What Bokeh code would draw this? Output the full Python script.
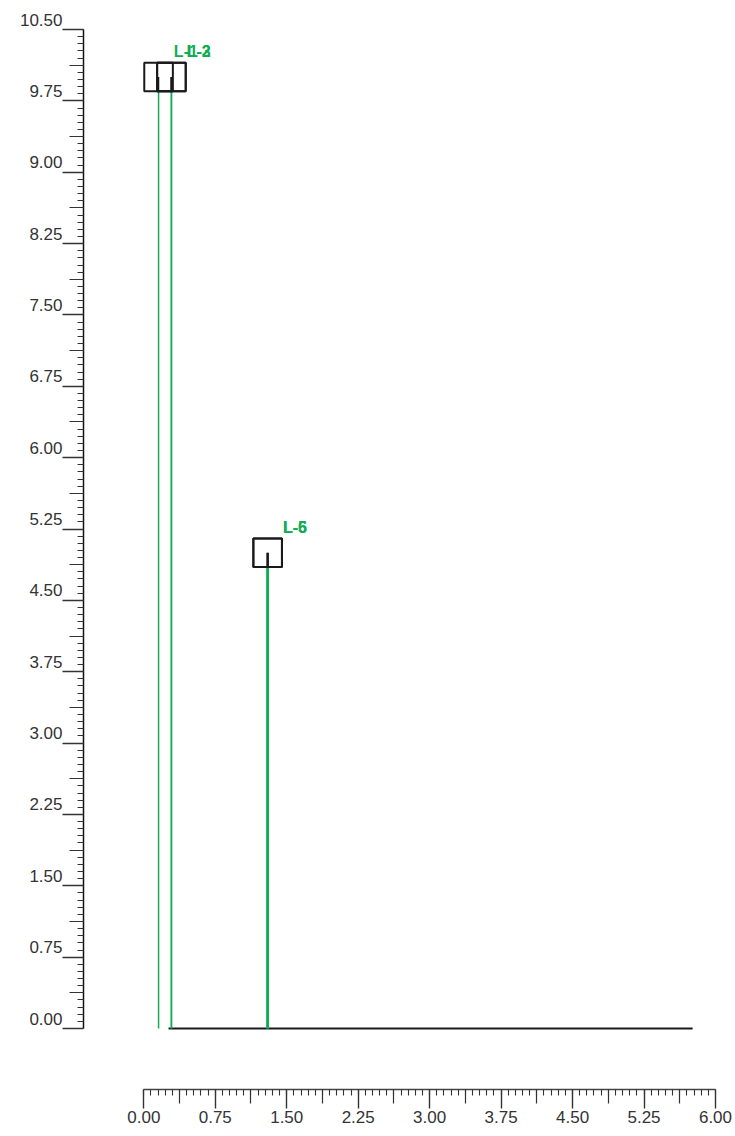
import numpy as np
from bokeh.plotting import figure
from bokeh.models import Range1d, LinearAxis, FixedTicker, ColumnDataSource
from bokeh.core.properties import value
from bokeh.transform import dodge
from bokeh.embed import file_html
from bokeh.resources import INLINE

# ---------------- data ----------------
names = ["L-1", "L-2", "L-3", "L-5", "L-6"]
pos_x = [0.155, 0.29, 0.29, 1.30, 1.30]
pos_y = [10.0, 10.0, 10.0, 5.0, 5.0]

ground_x = [0.26, 5.76]
ground_y = [0.0, 0.0]

x_tick_values = [0.0, 0.75, 1.5, 2.25, 3.0, 3.75, 4.5, 5.25, 6.0]
x_tick_labels = ["0.00", "0.75", "1.50", "2.25", "3.00", "3.75", "4.50", "5.25", "6.00"]
y_tick_values = [0.0, 0.75, 1.5, 2.25, 3.0, 3.75, 4.5, 5.25, 6.0, 6.75, 7.5, 8.25, 9.0, 9.75, 10.5]
y_tick_labels = ["0.00", "0.75", "1.50", "2.25", "3.00", "3.75", "4.50", "5.25", "6.00",
                 "6.75", "7.50", "8.25", "9.00", "9.75", "10.50"]

# ---------------- styles ----------------
GREEN = "#10ad52"
DARK = "#1a1a1a"
AX = "#333333"
BOX = 0.3
HALF = BOX / 2
line_w = [1.5, 1.5, 1.5, 2.6, 2.6]
stub_w = [1.4, 1.9, 1.9, 2.2, 2.2]

W, H = 735, 1130
PX = 95.28   # px per x unit
PY = 95.14   # px per y unit
x0 = -143.3 / PX
y1 = 1028.0 / PY
x_range = Range1d(x0, x0 + W / PX)
y_range = Range1d(y1 - H / PY, y1)

p = figure(width=W, height=H, x_range=x_range, y_range=y_range,
           x_axis_location=None, y_axis_location=None,
           output_backend="svg", toolbar_location=None,
           min_border=0, outline_line_color=None)
p.grid.visible = False

LAB_SHIFT = 10.0 / PY
p.extra_y_ranges = {"ylab": Range1d(y_range.start - LAB_SHIFT, y_range.end - LAB_SHIFT)}

YAX_X = -60.3 / PX
XAX_Y = -60.5 / PY

FONT = "Liberation Sans"

x_minor = list(np.round(np.arange(0, 6.0001, 0.075), 4))
y_minor = list(np.round(np.arange(0, 10.5001, 0.075), 4))
x_mid = list(np.round(np.arange(0.375, 6.0, 0.75), 4))
y_mid = list(np.round(np.arange(0.375, 10.5, 0.75), 4))

def no_labels(ax, ticks):
    ax.major_label_overrides = {float(t): "" for t in ticks}
    ax.major_label_text_font_size = "0px"

# ---- Y axes ----
y_main = LinearAxis(fixed_location=YAX_X, bounds=(0, 10.5),
                    ticker=FixedTicker(ticks=y_tick_values, minor_ticks=y_minor),
                    major_tick_out=21, major_tick_in=0, minor_tick_out=6, minor_tick_in=0,
                    axis_line_color="#111111", axis_line_width=1.5,
                    major_tick_line_color=AX, major_tick_line_width=1.4,
                    minor_tick_line_color=AX, minor_tick_line_width=1.1)
no_labels(y_main, y_tick_values)
p.add_layout(y_main, "left")

y_med = LinearAxis(fixed_location=YAX_X, bounds=(0, 10.5),
                   ticker=FixedTicker(ticks=y_mid),
                   major_tick_out=14, major_tick_in=0,
                   axis_line_color=None, minor_tick_line_color=None,
                   major_tick_line_color=AX, major_tick_line_width=1.2)
no_labels(y_med, y_mid)
p.add_layout(y_med, "left")

y_lab = LinearAxis(y_range_name="ylab", fixed_location=YAX_X,
                   ticker=FixedTicker(ticks=y_tick_values),
                   major_label_overrides=dict(zip(y_tick_values, y_tick_labels)),
                   major_tick_out=0, major_tick_in=0, major_tick_line_color=None,
                   minor_tick_line_color=None, axis_line_color=None,
                   major_label_standoff=21,
                   major_label_text_font=FONT, major_label_text_font_size="17px",
                   major_label_text_color=AX)
p.add_layout(y_lab, "left")

# ---- X axes ----
x_main = LinearAxis(fixed_location=XAX_Y, bounds=(0, 6),
                    ticker=FixedTicker(ticks=x_tick_values, minor_ticks=x_minor),
                    major_label_overrides=dict(zip(x_tick_values, x_tick_labels)),
                    major_tick_out=19, major_tick_in=0, minor_tick_out=6, minor_tick_in=0,
                    axis_line_color="#444444", axis_line_width=1.4,
                    major_tick_line_color=AX, major_tick_line_width=1.4,
                    minor_tick_line_color=AX, minor_tick_line_width=1.1,
                    major_label_standoff=3,
                    major_label_text_font=FONT, major_label_text_font_size="17px",
                    major_label_text_color=AX)
p.add_layout(x_main, "below")

x_med = LinearAxis(fixed_location=XAX_Y, bounds=(0, 6),
                   ticker=FixedTicker(ticks=x_mid),
                   major_tick_out=14, major_tick_in=0,
                   axis_line_color=None, minor_tick_line_color=None,
                   major_tick_line_color=AX, major_tick_line_width=1.2)
no_labels(x_med, x_mid)
p.add_layout(x_med, "below")

# ---------------- glyphs ----------------
src = ColumnDataSource(dict(x=pos_x, y=pos_y, name=names,
                            base=[0.0] * len(pos_x), lw=line_w, sw=stub_w))

p.line(ground_x, ground_y, line_color=DARK, line_width=2.2)

p.segment(x0="x", y0="base", x1="x", y1=dodge("y", -HALF), source=src,
          line_color=GREEN, line_width="lw")
p.segment(x0="x", y0=dodge("y", -HALF), x1="x", y1="y", source=src,
          line_color=DARK, line_width="sw")
p.rect(x="x", y="y", width=BOX, height=BOX, source=src,
       fill_color=None, line_color=DARK, line_width=2)
p.text(x=dodge("x", HALF), y=dodge("y", HALF), text="name", source=src,
       x_offset=1, y_offset=-11, text_baseline="alphabetic", text_align="left",
       text_font=value(FONT), text_font_size="16px", text_font_style="bold",
       text_color=GREEN)

open("out.html", "w").write(file_html(p, INLINE))
